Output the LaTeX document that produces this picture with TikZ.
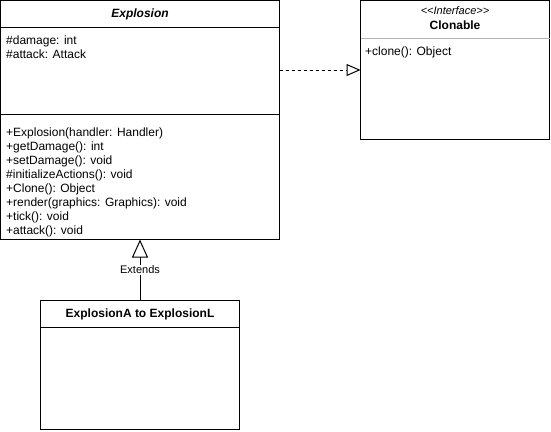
\documentclass[tikz,border=0pt]{standalone}
\usepackage{fontspec}
\setmainfont{Liberation Sans}
\usetikzlibrary{arrows.meta}
\begin{document}
\begin{tikzpicture}[x=1pt,y=-1pt,
  box/.style={draw=black,line width=1pt,inner sep=0pt,outer sep=0pt,rectangle},
  member/.style={anchor=base west,inner sep=0pt,font=\fontsize{12}{14}\selectfont},
  head/.style={inner sep=0pt,font=\fontsize{12}{14}\selectfont},
  lbl/.style={fill=white,inner sep=1pt,font=\fontsize{11}{13}\selectfont},
  sep/.style={line width=1pt}]
\useasboundingbox (0,0) rectangle (551,431);
% Explosion
\node[box,minimum width=279pt,minimum height=239pt] (expl) at (140,120) {};
\node[head] (explh) at (140,14) {\bfseries\itshape Explosion};
\draw[sep] (0.5,27) -- (279.5,27);
\node[member] (a1) at (6,44) {\#damage: int};
\node[member] (a2) at (6,58) {\#attack: Attack};
\draw[sep] (0.5,114) -- (279.5,114);
\node[member] (m1) at (6,136) {+Explosion(handler: Handler)};
\node[member] (m2) at (6,150) {+getDamage(): int};
\node[member] (m3) at (6,164) {+setDamage(): void};
\node[member] (m4) at (6,178) {\#initializeActions(): void};
\node[member] (m5) at (6,192) {+Clone(): Object};
\node[member] (m6) at (6,206) {+render(graphics: Graphics): void};
\node[member] (m7) at (6,220) {+tick(): void};
\node[member] (m8) at (6,234) {+attack(): void};
% Clonable
\node[box,minimum width=189pt,minimum height=139pt] (clon) at (455,70) {};
\node[head] (clons) at (455,11) {\itshape\fontsize{11}{13}\selectfont <{}<Interface>{}>};
\node[head] (clonh) at (455,25) {\bfseries Clonable};
\draw[line width=1pt,draw=black!30] (360.5,38) -- (549.5,38);
\node[member] (c1) at (365,55) {+clone(): Object};
% ExplosionA
\node[box,minimum width=199pt,minimum height=129pt] (expa) at (140,365) {};
\node[head] (expah) at (140,314) {\bfseries ExplosionA to ExplosionL};
\draw[sep] (40.5,327) -- (239.5,327);
% connectors
\draw[line width=1pt,dash pattern=on 3pt off 3pt,-{Triangle[open,length=14pt,width=12pt,fill=white]}]
  (expl.east |- 0,70) -- (clon.west |- 0,70);
\draw[line width=1pt,-{Triangle[open,length=18pt,width=16pt,fill=white]}]
  (expa.north) -- (expl.south);
\node[lbl] (ext) at (140,270) {Extends};
\end{tikzpicture}
\end{document}
